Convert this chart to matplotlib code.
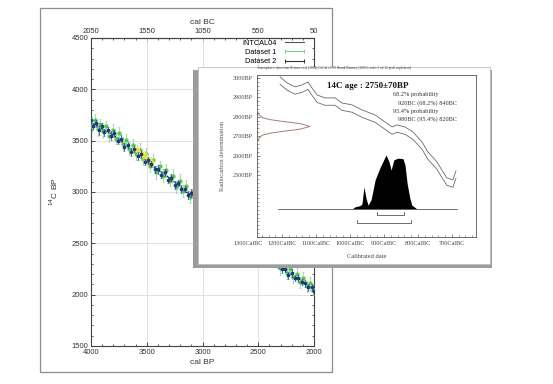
import matplotlib
matplotlib.use("Agg")
import matplotlib.pyplot as plt
from matplotlib.lines import Line2D
from matplotlib.patches import Rectangle
from matplotlib.ticker import MultipleLocator

# ---------------- data: main chart ----------------
intcal_calbp = [4000, 3950, 3900, 3850, 3800, 3750, 3700, 3650, 3600, 3550, 3500, 3450, 3400,
                3350, 3300, 3250, 3200, 3150, 3100, 3050, 3000, 2950, 2900, 2850, 2800, 2750,
                2700, 2650, 2600, 2550, 2500, 2450, 2400, 2350, 2300, 2250, 2200, 2150, 2100,
                2050, 2000]
intcal_bp = [3675, 3650, 3615, 3590, 3555, 3520, 3470, 3420, 3385, 3345, 3305, 3260, 3210,
             3180, 3140, 3095, 3060, 3000, 2970, 2935, 2880, 2850, 2800, 2760, 2700, 2640,
             2580, 2530, 2490, 2470, 2450, 2440, 2390, 2310, 2270, 2225, 2195, 2160, 2130,
             2090, 2060]

ds1_calbp = [3995, 3965, 3940, 3915, 3890, 3865, 3835, 3805, 3775, 3745, 3715, 3685, 3655, 3625,
             3595, 3565, 3535, 3505, 3475, 3445, 3415, 3385, 3355, 3325, 3295, 3265, 3235, 3205,
             3175, 3145, 3115, 3085, 3055, 3025, 2950, 2870, 2790, 2710, 2630, 2550, 2470, 2410,
             2370, 2335, 2305, 2275, 2245, 2215, 2185, 2155, 2125, 2095, 2065, 2035, 2010]
ds1_bp = [3640, 3700, 3610, 3660, 3590, 3640, 3550, 3600, 3520, 3570, 3470, 3510, 3420, 3460,
          3370, 3410, 3320, 3370, 3250, 3310, 3190, 3250, 3160, 3210, 3110, 3160, 3050, 3110,
          3010, 3060, 2950, 3010, 2900, 2970, 2830, 2790, 2700, 2610, 2510, 2480, 2440, 2410,
          2350, 2340, 2260, 2310, 2210, 2250, 2170, 2200, 2120, 2160, 2080, 2110, 2050]
ds1_err = [60, 55, 65, 55, 60, 55, 65, 60, 55, 60, 65, 55, 60, 55, 60, 65, 55, 60, 55, 65,
           60, 55, 60, 65, 55, 60, 55, 65, 60, 55, 60, 65, 55, 60, 55, 60, 65, 55, 60, 55,
           60, 55, 60, 55, 65, 60, 55, 60, 55, 60, 55, 60, 55, 60, 55]

ds2_calbp = [4000, 3980, 3955, 3930, 3905, 3880, 3850, 3820, 3790, 3760, 3730, 3700, 3670, 3640,
             3610, 3580, 3550, 3520, 3490, 3460, 3430, 3400, 3370, 3340, 3310, 3280, 3250, 3220,
             3190, 3160, 3130, 3100, 3070, 3040, 3010, 2960, 2900, 2840, 2780, 2720, 2660, 2600,
             2540, 2480, 2420, 2380, 2350, 2320, 2290, 2260, 2230, 2200, 2170, 2140, 2110, 2080,
             2050, 2020, 2000]
ds2_bp = [3700, 3640, 3670, 3600, 3640, 3580, 3600, 3550, 3570, 3500, 3520, 3440, 3460, 3390,
          3420, 3350, 3370, 3290, 3310, 3270, 3220, 3220, 3170, 3190, 3120, 3140, 3070, 3090,
          3030, 3030, 2970, 2990, 2930, 2950, 2870, 2860, 2810, 2740, 2680, 2600, 2540, 2500,
          2470, 2450, 2420, 2360, 2310, 2290, 2250, 2250, 2190, 2210, 2160, 2160, 2120, 2110,
          2070, 2070, 2040]
ds2_err = [35, 30, 35, 40, 30, 35, 30, 40, 35, 30, 35, 40, 30, 35, 30, 35, 40, 30, 35, 30,
           35, 40, 30, 35, 30, 35, 40, 30, 35, 30, 35, 40, 30, 35, 30, 35, 30, 40, 35, 30,
           35, 30, 40, 35, 30, 35, 40, 30, 35, 30, 35, 40, 30, 35, 30, 35, 30, 35, 30]

ds3_calbp = [2900, 2820, 2740, 2660, 2580]
ds3_bp = [2790, 2710, 2620, 2530, 2490]
ds3_err = [30, 30, 30, 30, 30]

ds4_calbp = [3610, 3590, 3570, 3550, 3535, 3515, 3495, 3475, 3455]
ds4_bp = [3410, 3420, 3380, 3390, 3350, 3360, 3320, 3310, 3290]
ds4_err = [40, 35, 40, 35, 40, 35, 40, 35, 40]

legend_labels = ["INTCAL04", "Dataset 1", "Dataset 2", "Dataset 3"]
x_ticks_bp = [4000, 3500, 3000, 2500, 2000]
x_ticks_bc = [2050, 1550, 1050, 550, 50]
y_ticks_main = [1500, 2000, 2500, 3000, 3500, 4000, 4500]

# ---------------- data: inset (OxCal) ----------------
curve_bc = [1206, 1185, 1162, 1141, 1124, 1112, 1097, 1074, 1044, 1024, 994, 965, 926, 897,
            876, 862, 838, 815, 788, 771, 744, 726, 715, 697, 688]
curve_upper_bp = [3005, 2974, 2954, 2964, 2979, 2948, 2912, 2897, 2897, 2871, 2861, 2835, 2809,
                  2773, 2747, 2758, 2747, 2722, 2670, 2619, 2567, 2515, 2485, 2474, 2521]
curve_band_bp = 38

dist_bc = [994, 985, 971, 965, 959, 953, 947, 938, 926, 912, 894, 885, 879, 871, 859, 844,
           838, 832, 824, 818, 803]
dist_prob = [0, 0.04, 0.06, 0.09, 0.41, 0.2, 0.07, 0.17, 0.54, 0.76, 1.0, 0.87, 0.72, 0.91,
             0.94, 0.93, 0.81, 0.48, 0.2, 0.07, 0]
baseline_bc = [1212, 685]

c14_bp = [2850, 2830, 2810, 2795, 2785, 2775, 2765, 2750, 2735, 2725, 2715, 2705, 2690, 2670,
          2650]
c14_prob = [0, 0.01, 0.04, 0.1, 0.25, 0.5, 0.8, 1.0, 0.8, 0.5, 0.25, 0.1, 0.04, 0.01, 0]

range68 = [920, 840]
range95 = [980, 820]

inset_y_ticks = [2500, 2600, 2700, 2800, 2900, 3000]
inset_x_ticks = [1200, 1100, 1000, 900, 800, 700]
inset_title = ("Atmospheric data from Reimer et al (2004);OxCal v3.10 Bronk Ramsey (2005); "
               "cub r:5 sd:12 prob usp[chron]")

# ---------------- figure ----------------
W, H = 553, 384
fig = plt.figure(figsize=(W / 100, H / 100), dpi=100)
fig.patch.set_facecolor("white")
SANS = ["Liberation Sans", "DejaVu Sans"]
SERIF = ["Liberation Serif", "DejaVu Serif"]
plt.rcParams["font.family"] = SANS


def fx(px):
    return px / W


def fy(py):
    return 1 - py / H


# outer frame of main chart
fig.patches.append(Rectangle((fx(40), fy(372)), fx(332) - fx(40), fy(8) - fy(372),
                             transform=fig.transFigure, fill=False, ec="#8c8c8c", lw=0.9,
                             zorder=1))

ax = fig.add_axes([fx(91), fy(346), fx(314) - fx(91), fy(38) - fy(346)])
ax.set_zorder(0)
ax.set_xlim(4000, 2000)
ax.set_ylim(1500, 4500)
ax.set_xticks(x_ticks_bp)
ax.set_yticks(y_ticks_main)
ax.xaxis.set_minor_locator(MultipleLocator(100))
ax.yaxis.set_minor_locator(MultipleLocator(100))
ax.tick_params(which="both", direction="in", right=True, color="#444444",
               labelsize=5.5, labelcolor="#333333", pad=2)
ax.tick_params(which="major", length=3, width=0.7)
ax.tick_params(which="minor", length=1.6, width=0.6)
ax.grid(True, which="major", color="#dcdcdc", lw=0.6)
for s in ax.spines.values():
    s.set_color("#444444")
    s.set_linewidth(0.8)
ax.set_xlabel("cal BP", fontsize=6, color="#333333", labelpad=2)
ax.set_ylabel("$^{14}$C BP", fontsize=6, color="#333333", labelpad=8)

sec = ax.secondary_xaxis("top", functions=(lambda x: x - 1950, lambda x: x + 1950))
sec.set_xticks(x_ticks_bc)
sec.xaxis.set_minor_locator(MultipleLocator(100, offset=50))
sec.tick_params(which="both", direction="in", color="#444444", labelsize=5.5,
                labelcolor="#333333", pad=2)
sec.tick_params(which="major", length=3, width=0.7)
sec.tick_params(which="minor", length=1.6, width=0.6)
sec.set_xlabel("cal BC", fontsize=6, color="#333333", labelpad=3)
sec.spines["top"].set_color("#444444")

ax.plot(intcal_calbp, intcal_bp, color="#222222", lw=0.8, zorder=2)
eb = dict(fmt="o", capsize=1.0, elinewidth=0.6, capthick=0.6)
ax.errorbar(ds1_calbp, ds1_bp, yerr=ds1_err, ms=2.8, color="#3fbf3f", mfc="#45c845",
            mec="#8fe08f", mew=0.5, ecolor="#8fdc8f", zorder=3, **eb)
ax.errorbar(ds4_calbp, ds4_bp, yerr=ds4_err, ms=2.8, color="#e3e030", mec="#f0ee80",
            mew=0.4, ecolor="#b8d86a", zorder=4, **eb)
ax.errorbar(ds2_calbp, ds2_bp, yerr=ds2_err, ms=2.2, color="#1d3a8c", mec="#14286a",
            mew=0.4, ecolor="#3a58a8", zorder=5, **eb)
ax.errorbar(ds3_calbp, ds3_bp, yerr=ds3_err, ms=2.2, color="#cc88cc", ecolor="#d9a6d9",
            zorder=4, **eb)

handles = [
    Line2D([], [], color="#555555", lw=0.8),
    Line2D([], [], color="#7fd67f", lw=0.8, marker="|", ms=3, mew=0.7),
    Line2D([], [], color="#333333", lw=0.8, marker="|", ms=3, mew=0.7),
    Line2D([], [], color="#d090d0", lw=0.8, marker="|", ms=3, mew=0.7),
]
ax.legend(handles, legend_labels, loc="upper right", bbox_to_anchor=(0.99, 1.012),
          frameon=False, fontsize=5.3, markerfirst=False, numpoints=2, handlelength=3.2,
          handletextpad=0.9, labelspacing=0.3, borderpad=0.2)

# ---------------- inset panel ----------------
fig.patches.append(Rectangle((fx(193), fy(268)), fx(492) - fx(193), fy(70) - fy(268),
                             transform=fig.transFigure, fc="#9c9c9c", ec="none", zorder=2))
fig.patches.append(Rectangle((fx(198), fy(264)), fx(490) - fx(198), fy(67) - fy(264),
                             transform=fig.transFigure, fc="white", ec="#bdbdbd", lw=0.6,
                             zorder=3))

axi = fig.add_axes([fx(257), fy(237), fx(476) - fx(257), fy(75) - fy(237)])
axi.set_zorder(4)
axi.patch.set_alpha(0)
axi.set_xlim(1274, 629)
axi.set_ylim(2180, 3015)
axi.set_yticks(inset_y_ticks)
axi.set_yticklabels([f"{v}BP" for v in inset_y_ticks])
axi.set_xticks(inset_x_ticks)
axi.set_xticklabels([f"{v}CalBC" for v in inset_x_ticks])
axi.xaxis.set_minor_locator(MultipleLocator(20))
axi.yaxis.set_minor_locator(MultipleLocator(20))
axi.tick_params(which="both", direction="in", color="#555555", labelsize=4.4,
                labelcolor="#444444", pad=3)
axi.tick_params(which="major", length=2.2, width=0.5)
axi.tick_params(which="minor", length=1.2, width=0.4)
for lab in axi.get_xticklabels() + axi.get_yticklabels():
    lab.set_family(SERIF)
for s in axi.spines.values():
    s.set_color("#555555")
    s.set_linewidth(0.6)
axi.annotate("1300CalBC", xy=(1300, 0), xycoords=("data", "axes fraction"),
             xytext=(0, -3), textcoords="offset points", ha="center", va="top",
             fontsize=4.4, color="#444444", family=SERIF, annotation_clip=False)
axi.set_ylabel("Radiocarbon determination", fontsize=4.6, color="#555555",
               family=SERIF, labelpad=6)
axi.set_xlabel("Calibrated date", fontsize=4.6, color="#444444", family=SERIF,
               labelpad=6)
axi.text(0.0, 1.03, inset_title, transform=axi.transAxes, fontsize=2.5,
         family=SERIF, color="#444444", va="bottom", ha="left")
axi.text(0.507, 0.935, "14C age : 2750±70BP", transform=axi.transAxes, fontsize=6.5,
         family=SERIF, weight="bold", ha="center", va="center", color="#111111")
prob_kw = dict(transform=axi.transAxes, fontsize=4.5, family=SERIF, color="#333333",
               va="center", ha="left")
axi.text(0.622, 0.877, "68.2% probability", **prob_kw)
axi.text(0.645, 0.826, f"{range68[0]}BC (68.2%) {range68[1]}BC", **prob_kw)
axi.text(0.622, 0.772, "95.4% probability", **prob_kw)
axi.text(0.645, 0.728, f"{range95[0]}BC (95.4%) {range95[1]}BC", **prob_kw)

curve_lower_bp = [v - curve_band_bp for v in curve_upper_bp]
axi.plot(curve_bc, curve_upper_bp, color="#6a6a6a", lw=0.6)
axi.plot(curve_bc, curve_lower_bp, color="#6a6a6a", lw=0.6)

# calibrated probability (own vertical scale)
axp = axi.twinx()
axp.set_zorder(4)
axp.set_ylim(-0.52, 2.48)
axp.axis("off")
axp.fill_between(dist_bc, 0, dist_prob, color="black", lw=0)
axp.plot(baseline_bc, [0, 0], color="#555555", lw=0.6)
for rng, yb in ((range68, -0.11), (range95, -0.26)):
    axp.plot([rng[0], rng[0], rng[1], rng[1]], [yb + 0.055, yb, yb, yb + 0.055],
             color="#555555", lw=0.6)

# radiocarbon determination distribution (own horizontal scale)
axr = axi.twiny()
axr.set_zorder(4)
axr.set_xlim(0, 4.13)
axr.axis("off")
axr.plot(c14_prob, c14_bp, color="#a07f72", lw=0.7)

fig.savefig("out.png", dpi=100, facecolor="white")
